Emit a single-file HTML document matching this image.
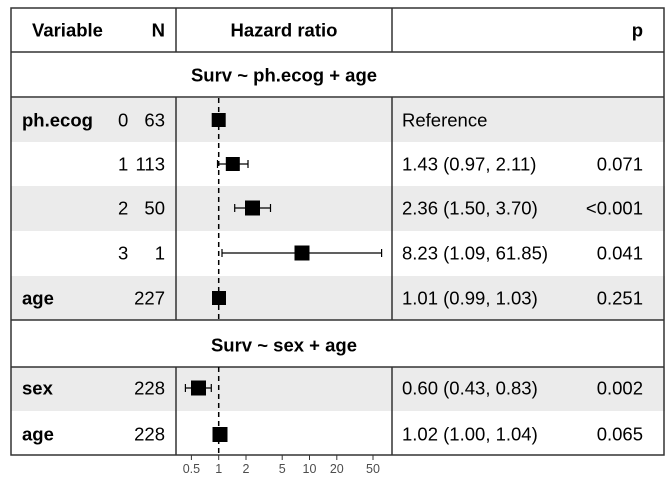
<!DOCTYPE html>
<html><head><meta charset="utf-8"><style>
html,body{margin:0;padding:0;background:#fff;}
svg{display:block;font-family:"Liberation Sans",Arial,sans-serif;}
</style></head><body>
<svg width="672" height="480" viewBox="0 0 672 480" xmlns="http://www.w3.org/2000/svg">
<rect width="672" height="480" fill="#fff"/>
<g fill="#ebebeb">
<rect x="11" y="98" width="654" height="44"/>
<rect x="11" y="186" width="654" height="45"/>
<rect x="11" y="276" width="654" height="44"/>
<rect x="11" y="367" width="654" height="44"/>
</g>
<g stroke="#333" stroke-width="1.5" fill="none">
<rect x="11" y="8" width="653" height="447"/>
<line x1="11" y1="52" x2="664" y2="52"/>
<line x1="11" y1="97" x2="664" y2="97"/>
<line x1="11" y1="320" x2="664" y2="320"/>
<line x1="11" y1="367" x2="664" y2="367"/>
<line x1="176" y1="8" x2="176" y2="52"/>
<line x1="392" y1="8" x2="392" y2="52"/>
<line x1="176" y1="97" x2="176" y2="320"/>
<line x1="392" y1="97" x2="392" y2="320"/>
<line x1="176" y1="367" x2="176" y2="455"/>
<line x1="392" y1="367" x2="392" y2="455"/>
</g>
<g stroke="#000" stroke-width="1.5" stroke-dasharray="5,4">
<line x1="218.7" y1="98" x2="218.7" y2="320"/>
<line x1="218.7" y1="367" x2="218.7" y2="455"/>
</g>
<g stroke="#000" stroke-width="1.2">
<line x1="217.5" y1="164" x2="248" y2="164"/><line x1="217.5" y1="160" x2="217.5" y2="168"/><line x1="248" y1="160" x2="248" y2="168"/>
<line x1="234.7" y1="208" x2="270.5" y2="208"/><line x1="234.7" y1="204" x2="234.7" y2="212"/><line x1="270.5" y1="204" x2="270.5" y2="212"/>
<line x1="222" y1="253" x2="381.6" y2="253"/><line x1="222" y1="249" x2="222" y2="257"/><line x1="381.6" y1="249" x2="381.6" y2="257"/>
<line x1="185.4" y1="388" x2="211.3" y2="388"/><line x1="185.4" y1="384" x2="185.4" y2="392"/><line x1="211.3" y1="384" x2="211.3" y2="392"/>
</g>
<g fill="#000">
<rect x="211.7" y="113" width="14" height="14"/>
<rect x="225.8" y="157" width="14" height="14"/>
<rect x="245" y="200.5" width="15" height="15"/>
<rect x="294.5" y="245.5" width="15" height="15"/>
<rect x="212" y="291" width="14" height="14"/>
<rect x="191" y="380.5" width="15" height="15"/>
<rect x="212.5" y="427" width="15" height="15"/>
</g>
<g stroke="#333" stroke-width="1">
<line x1="191.4" y1="455" x2="191.4" y2="460"/><line x1="218.7" y1="455" x2="218.7" y2="460"/><line x1="246" y1="455" x2="246" y2="460"/><line x1="282.2" y1="455" x2="282.2" y2="460"/><line x1="309.5" y1="455" x2="309.5" y2="460"/><line x1="336.8" y1="455" x2="336.8" y2="460"/><line x1="373" y1="455" x2="373" y2="460"/>
</g>
<g font-size="12.5" fill="#4d4d4d" text-anchor="middle">
<text x="191.4" y="473">0.5</text><text x="218.7" y="473">1</text><text x="246" y="473">2</text><text x="282.2" y="473">5</text><text x="309.5" y="473">10</text><text x="336.8" y="473">20</text><text x="373" y="473">50</text>
</g>
<g font-size="18.5" fill="#000">
<g font-weight="bold">
<text x="32" y="36.5">Variable</text>
<text x="165" y="36.5" text-anchor="end">N</text>
<text x="284" y="36.5" text-anchor="middle">Hazard ratio</text>
<text x="643" y="36.5" text-anchor="end">p</text>
<text x="284" y="81.5" text-anchor="middle">Surv ~ ph.ecog + age</text>
<text x="284" y="351.5" text-anchor="middle">Surv ~ sex + age</text>
<text x="22" y="126.5">ph.ecog</text>
<text x="22" y="304.5">age</text>
<text x="22" y="394.5">sex</text>
<text x="22" y="440.5">age</text>
</g>
<text x="118" y="126.5">0</text><text x="165" y="126.5" text-anchor="end">63</text>
<text x="118" y="170.5">1</text><text x="165" y="170.5" text-anchor="end">113</text>
<text x="118" y="214.5">2</text><text x="165" y="214.5" text-anchor="end">50</text>
<text x="118" y="259.5">3</text><text x="165" y="259.5" text-anchor="end">1</text>
<text x="165" y="304.5" text-anchor="end">227</text>
<text x="165" y="394.5" text-anchor="end">228</text>
<text x="165" y="440.5" text-anchor="end">228</text>
<text x="402" y="126.5">Reference</text>
<text x="402" y="170.5">1.43 (0.97, 2.11)</text><text x="643" y="170.5" text-anchor="end">0.071</text>
<text x="402" y="214.5">2.36 (1.50, 3.70)</text><text x="643" y="214.5" text-anchor="end">&lt;0.001</text>
<text x="402" y="259.5">8.23 (1.09, 61.85)</text><text x="643" y="259.5" text-anchor="end">0.041</text>
<text x="402" y="304.5">1.01 (0.99, 1.03)</text><text x="643" y="304.5" text-anchor="end">0.251</text>
<text x="402" y="394.5">0.60 (0.43, 0.83)</text><text x="643" y="394.5" text-anchor="end">0.002</text>
<text x="402" y="440.5">1.02 (1.00, 1.04)</text><text x="643" y="440.5" text-anchor="end">0.065</text>
</g>
</svg>
</body></html>
